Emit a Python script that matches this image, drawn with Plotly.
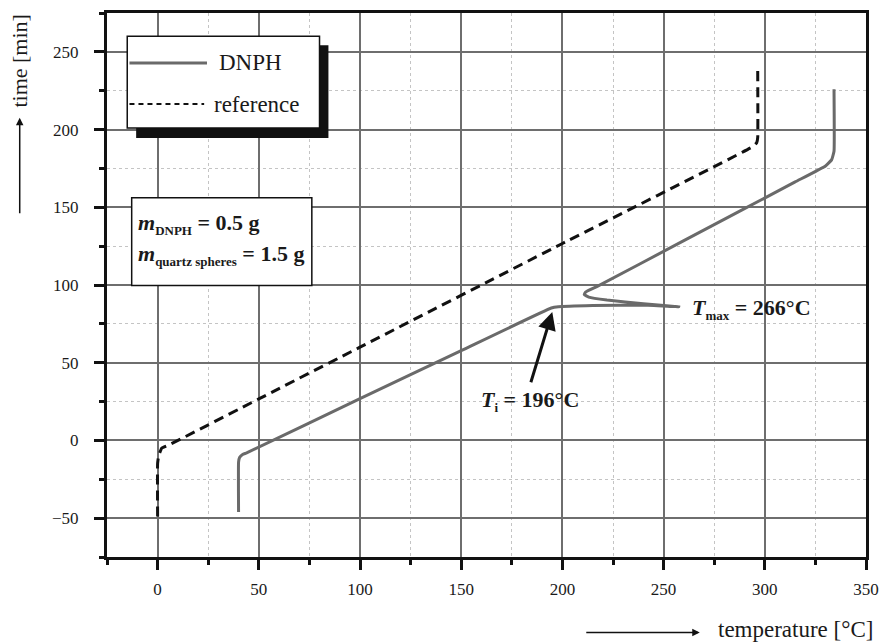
import plotly.graph_objects as go

# DNPH sample: temperature [°C] vs time [min]
dnph_temp = [40, 40, 40.5, 42, 44, 100, 150, 194.5, 198, 215, 240, 257.5,
             240, 222, 213, 210.8, 211.5, 217, 260, 315, 330, 333, 334.2, 334.2]
dnph_time = [-46, -14, -11, -9, -8, 26.9, 57.8, 85.2, 86.0, 86.8, 87.2, 86.0,
             88.0, 90.3, 92.2, 93.8, 95.5, 99, 128.5, 166.3, 176.6, 180.5, 186, 226]

# reference (empty) measurement
ref_temp = [0, 0, 0.5, 2, 5.8, 50, 100, 200, 294, 296, 296.5, 296.5]
ref_time = [-49, -15, -10, -5, -2.8, 26.7, 60, 126.7, 189, 191.5, 195, 238]

x_ticks = [0, 50, 100, 150, 200, 250, 300, 350]
y_ticks = [-50, 0, 50, 100, 150, 200, 250]

SERIF = "Liberation Serif, Times New Roman, serif"
TXT = "#1a1a1a"

fig = go.Figure()
fig.add_trace(go.Scatter(x=dnph_temp, y=dnph_time, mode="lines", name="DNPH",
                         line=dict(color="#6a6a6a", width=3, shape="spline", smoothing=0.3)))
fig.add_trace(go.Scatter(x=ref_temp, y=ref_time, mode="lines", name="reference",
                         line=dict(color="#111111", width=3, dash="10px,6px", shape="spline", smoothing=0.3)))

axis_common = dict(
    showline=True, linewidth=3, linecolor="#111111", mirror=True,
    showgrid=True, gridcolor="#6e6e6e", gridwidth=1.5,
    ticks="outside", ticklen=10, tickwidth=3, tickcolor="#111111",
    zeroline=False, automargin=False, ticklabeloverflow="allow",
    tickfont=dict(family=SERIF, size=17, color=TXT),
    minor=dict(dtick=25, ticks="outside", ticklen=5, tickwidth=3, tickcolor="#111111",
               showgrid=True, gridcolor="#c4c4c4", gridwidth=1, griddash="dot"),
)

fig.update_xaxes(range=[-25, 350], tickvals=x_ticks, ticklabelstandoff=5, **axis_common)
fig.update_yaxes(range=[-75, 275], tickvals=y_ticks, ticklabelstandoff=12, **axis_common)

shapes = [
    # legend shadow and box
    dict(type="rect", xref="x", yref="y", x0=-10.6, x1=84.4, y0=194.5, y1=254.3,
         fillcolor="#111111", line=dict(width=0), layer="above"),
    dict(type="rect", xref="x", yref="y", x0=-15.0, x1=80.0, y0=201.0, y1=260.1,
         fillcolor="white", line=dict(color="#111111", width=1.5), layer="above"),
    dict(type="line", xref="x", yref="y", x0=-13.9, x1=24.4, y0=242.9, y1=242.9,
         line=dict(color="#6a6a6a", width=3), layer="above"),
    dict(type="line", xref="x", yref="y", x0=-13.9, x1=23.0, y0=216.4, y1=216.4,
         line=dict(color="#111111", width=2, dash="5px,4px"), layer="above"),
    # mass box
    dict(type="rect", xref="x", yref="y", x0=-12.8, x1=76.2, y0=99.6, y1=156.2,
         fillcolor="white", line=dict(color="#111111", width=1.5), layer="above"),
]

SUB = '<sub><span style="font-size:13px">{}</span></sub>'

annotations = [
    dict(x=29.4, y=242.9, xref="x", yref="y", text="DNPH", showarrow=False,
         xanchor="left", yanchor="middle", font=dict(family=SERIF, size=23, color=TXT)),
    dict(x=26.9, y=216.4, xref="x", yref="y", text="reference", showarrow=False,
         xanchor="left", yanchor="middle", font=dict(family=SERIF, size=23, color=TXT)),
    dict(x=-10.5, y=139.5, xref="x", yref="y",
         text="<b><i>m</i>" + SUB.format("DNPH") + " = 0.5 g</b>", showarrow=False,
         xanchor="left", yanchor="middle", font=dict(family=SERIF, size=22, color=TXT)),
    dict(x=-10.5, y=119.3, xref="x", yref="y",
         text="<b><i>m</i>" + SUB.format("quartz spheres") + " = 1.5 g</b>", showarrow=False,
         xanchor="left", yanchor="middle", font=dict(family=SERIF, size=22, color=TXT)),
    dict(x=262.9, y=84.5, xref="x", yref="y",
         text="<b><i>T</i>" + SUB.format("max") + " = 266°C</b>", showarrow=False,
         xanchor="left", yanchor="middle", font=dict(family=SERIF, size=22, color=TXT)),
    dict(x=184.1, y=25.5, xref="x", yref="y",
         text="<b><i>T</i>" + SUB.format("i") + " = 196°C</b>", showarrow=False,
         xanchor="center", yanchor="middle", font=dict(family=SERIF, size=22, color=TXT)),
    # arrow to T_i
    dict(x=195, y=82.7, xref="x", yref="y", ax=184.2, ay=36.5, axref="x", ayref="y",
         text="", showarrow=True, arrowhead=2, arrowsize=1.2, arrowwidth=3, arrowcolor="#111111"),
    # axis titles
    dict(x=-0.115, y=0.912, xref="paper", yref="paper", text="time [min]", textangle=-90,
         xanchor="center", yanchor="middle",
         showarrow=False, font=dict(family=SERIF, size=22, color=TXT)),
    dict(x=-0.115, y=0.8075, xref="paper", yref="paper", ax=0, ay=97, text="",
         showarrow=True, arrowhead=2, arrowsize=1, arrowwidth=1.5, arrowcolor="#111111"),
    dict(x=0.803, y=-0.1336, xref="paper", yref="paper", text="temperature [°C]",
         xanchor="left", yanchor="middle", showarrow=False, font=dict(family=SERIF, size=23, color=TXT)),
    dict(x=0.781, y=-0.139, xref="paper", yref="paper", ax=-115, ay=0, text="",
         showarrow=True, arrowhead=2, arrowsize=1, arrowwidth=1.5, arrowcolor="#111111"),
]

fig.update_layout(
    width=880, height=643,
    margin=dict(l=107, r=14, t=13, b=86),
    plot_bgcolor="white", paper_bgcolor="white",
    showlegend=False,
    shapes=shapes, annotations=annotations,
    font=dict(family=SERIF, color=TXT),
)

fig.write_html("out.html", config={"displayModeBar": False},
               post_script="document.body.style.margin='0';document.body.style.overflow='hidden';")
